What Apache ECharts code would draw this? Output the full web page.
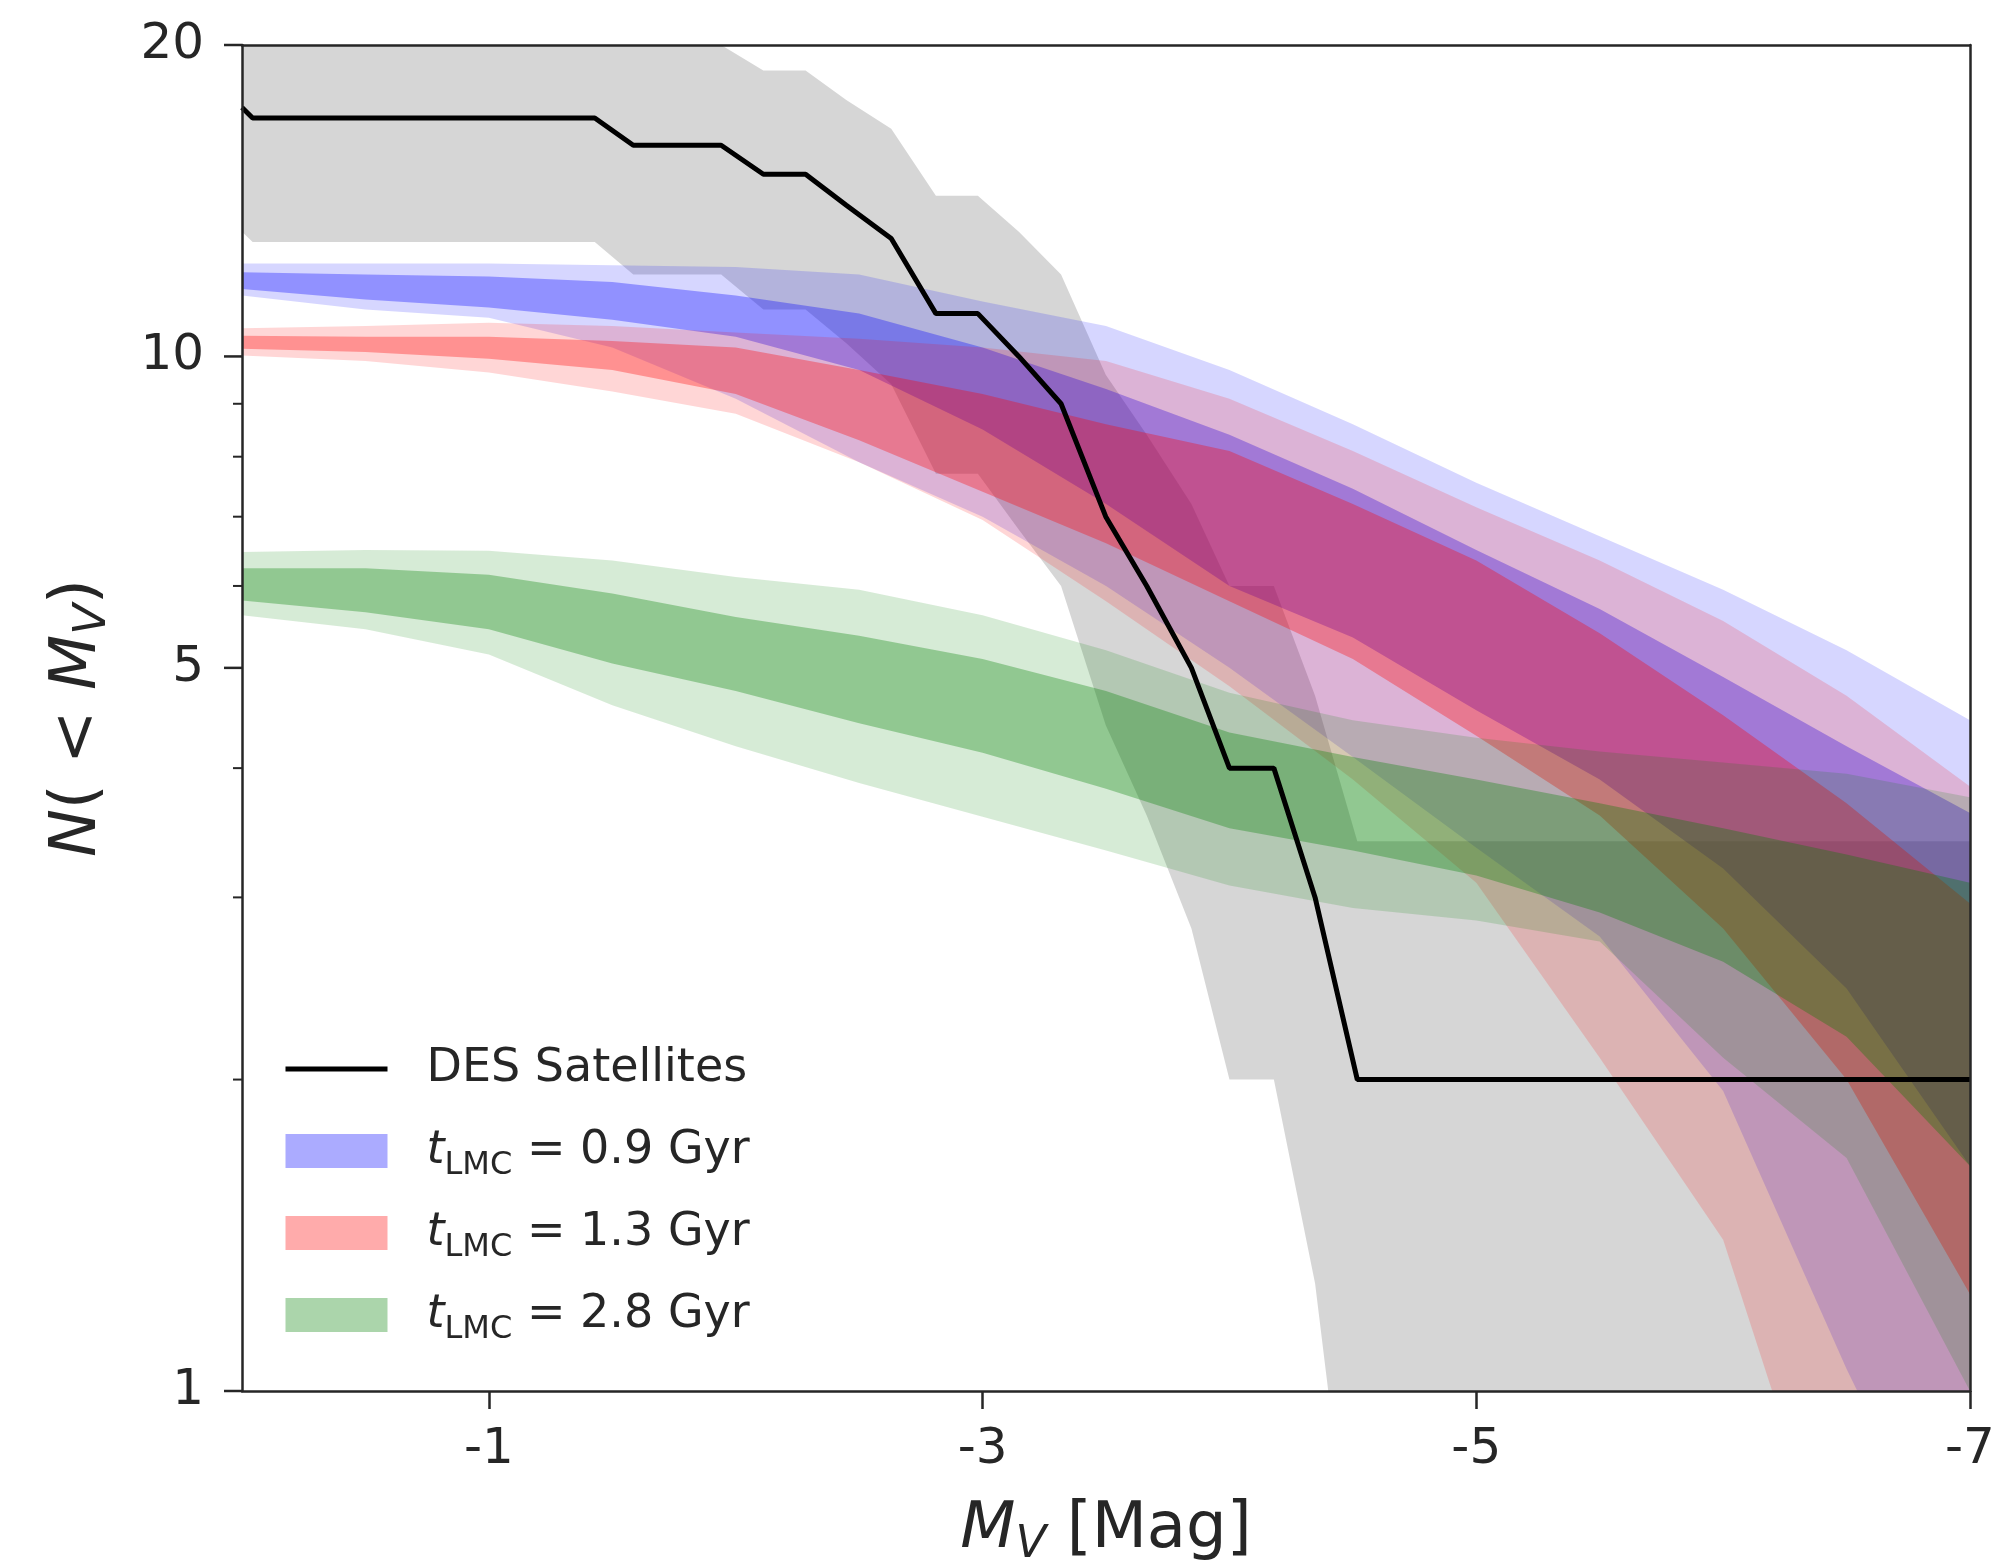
<!DOCTYPE html>
<html><head><meta charset="utf-8">
<script src="https://cdn.jsdelivr.net/npm/echarts@6/dist/echarts.min.js"></script>
<style>html,body{margin:0;padding:0;background:#fff}#c{width:1997px;height:1565px}</style>
</head><body><div id="c"></div>
<script>
// ---- data (M_V grid, N(<M_V)) ----
const MV = [0, -0.5, -1, -1.5, -2, -2.5, -3, -3.5, -4, -4.5, -5, -5.5, -6, -6.5, -7];

const BLUE_OUT_HI = [12.3, 12.3, 12.3, 12.25, 12.2, 12.0, 11.3, 10.7, 9.7, 8.6, 7.55, 6.7, 5.95, 5.2, 4.45];
const BLUE_IN_HI  = [12.06, 12.0, 11.95, 11.8, 11.45, 11.0, 10.2, 9.3, 8.4, 7.45, 6.5, 5.7, 4.9, 4.2, 3.62];
const BLUE_IN_LO  = [11.62, 11.35, 11.15, 10.85, 10.45, 9.7, 8.5, 7.2, 6.0, 5.35, 4.55, 3.9, 3.2, 2.45, 1.65];
const BLUE_OUT_LO = [11.45, 11.1, 10.9, 10.2, 9.1, 7.9, 7.0, 6.0, 5.0, 4.1, 3.35, 2.75, 1.95, 1.05, 0.6];

const RED_OUT_HI = [10.65, 10.7, 10.78, 10.7, 10.55, 10.4, 10.2, 9.9, 9.1, 8.1, 7.15, 6.35, 5.55, 4.7, 3.84];
const RED_IN_HI  = [10.47, 10.45, 10.45, 10.35, 10.2, 9.7, 9.2, 8.6, 8.1, 7.2, 6.35, 5.4, 4.5, 3.7, 2.96];
const RED_IN_LO  = [10.17, 10.1, 9.95, 9.7, 9.2, 8.3, 7.4, 6.6, 5.8, 5.1, 4.3, 3.6, 2.8, 2.0, 1.24];
const RED_OUT_LO = [10.02, 9.9, 9.65, 9.25, 8.8, 7.9, 6.95, 5.8, 4.8, 3.9, 3.1, 2.1, 1.4, 0.6, 0.4];

const GREEN_OUT_HI = [6.47, 6.5, 6.49, 6.35, 6.12, 5.95, 5.62, 5.2, 4.73, 4.45, 4.28, 4.15, 4.05, 3.95, 3.75];
const GREEN_IN_HI  = [6.24, 6.24, 6.15, 5.9, 5.6, 5.37, 5.1, 4.75, 4.33, 4.1, 3.9, 3.7, 3.5, 3.3, 3.1];
const GREEN_IN_LO  = [5.81, 5.66, 5.45, 5.05, 4.75, 4.42, 4.14, 3.82, 3.5, 3.33, 3.15, 2.9, 2.6, 2.2, 1.65];
const GREEN_OUT_LO = [5.62, 5.45, 5.15, 4.6, 4.2, 3.87, 3.59, 3.33, 3.08, 2.93, 2.85, 2.72, 2.1, 1.68, 1.0];

// DES satellites cumulative count and its band
const DES_MV = [0, -0.043, -1.429, -1.585, -1.941, -2.112, -2.283, -2.448, -2.63, -2.811, -2.981, -3.147, -3.318, -3.499, -3.665, -3.846, -4.0, -4.18, -4.347, -4.518, -7.0];
const DES_N  = [17.4, 17, 17, 16, 16, 15, 15, 14, 13, 11, 11, 10, 9, 7, 6, 5, 4, 4, 3, 2, 2];
const DES_HI = [21.5, 21.1, 21.1, 20.0, 20.0, 18.9, 18.9, 17.7, 16.6, 14.3, 14.3, 13.2, 12.0, 9.6, 8.4, 7.2, 6.0, 6.0, 4.7, 3.4, 3.4];
const DES_LO = [13.2, 12.9, 12.9, 12.0, 12.0, 11.1, 11.1, 10.3, 9.4, 7.7, 7.7, 6.8, 6.0, 4.4, 3.6, 2.8, 2.0, 2.0, 1.27, 0.59, 0.59];

const X_TICKS = [-1, -3, -5, -7];
const Y_TICKS = [1, 5, 10, 20];
const Y_MINOR = [2, 3, 4, 6, 7, 8, 9];

const TXT = '#262626';
const FONT = 'DejaVu Sans';

function polyPoints(api, xs, lo, hi) {
  const top = xs.map((x, i) => api.coord([x, hi[i]]));
  const bot = [];
  for (let i = xs.length - 1; i >= 0; i--) bot.push(api.coord([xs[i], lo[i]]));
  return top.concat(bot);
}

function bandSeries(name, lo2, hi2, lo1, hi1, rgb, legendColor) {
  return {
    type: 'custom', name: name, clip: true, silent: true, z: 2,
    itemStyle: { color: legendColor },
    data: MV.map((m, i) => [m, lo2[i], hi2[i], lo1[i], hi1[i]]),
    renderItem: function (params, api) {
      if (params.dataIndex !== 0) return null;
      return { type: 'group', children: [
        { type: 'polygon', shape: { points: polyPoints(api, MV, lo2, hi2) }, style: { fill: 'rgba(' + rgb + ',0.16)' } },
        { type: 'polygon', shape: { points: polyPoints(api, MV, lo1, hi1) }, style: { fill: 'rgba(' + rgb + ',0.32)' } }
      ]};
    }
  };
}

function yTickSeries(values, len, withLabel) {
  return {
    type: 'custom', clip: false, silent: true, z: 11,
    data: values.map(v => [0, v]),
    renderItem: function (params, api) {
      const v = api.value(1);
      const p = api.coord([0, v]);
      const children = [
        { type: 'line', shape: { x1: p[0] - len, y1: p[1], x2: p[0], y2: p[1] }, style: { stroke: TXT, lineWidth: withLabel ? 2.5 : 2 } }
      ];
      if (withLabel) {
        children.push({ type: 'text', style: { text: String(v), x: p[0] - 38, y: p[1], align: 'right', verticalAlign: 'middle', fontSize: 50, fontFamily: FONT, fill: TXT } });
      }
      return { type: 'group', children: children };
    }
  };
}

const chart = echarts.init(document.getElementById('c'), null, { renderer: 'canvas' });

const richAxis = {
  i: { fontFamily: FONT, fontStyle: 'italic', fontSize: 64, lineHeight: 76, color: TXT },
  n: { fontFamily: FONT, fontSize: 64, lineHeight: 76, color: TXT },
  s: { fontFamily: FONT, fontStyle: 'italic', fontSize: 45, lineHeight: 52, verticalAlign: 'bottom', color: TXT }
};
const richLegend = {
  d: { fontFamily: FONT, fontSize: 46, lineHeight: 62, color: TXT, padding: [0, 0, 0, 34] },
  t: { fontFamily: FONT, fontStyle: 'italic', fontSize: 46, lineHeight: 62, color: TXT, padding: [0, 0, 0, 34] },
  s: { fontFamily: FONT, fontSize: 32, lineHeight: 42, verticalAlign: 'bottom', color: TXT },
  n: { fontFamily: FONT, fontSize: 46, lineHeight: 62, color: TXT }
};
const LEGEND_TEXT = {
  'DES Satellites': '{d|DES Satellites}',
  'tLMC09': '{t|t}{s|LMC}{n| = 0.9 Gyr}',
  'tLMC13': '{t|t}{s|LMC}{n| = 1.3 Gyr}',
  'tLMC28': '{t|t}{s|LMC}{n| = 2.8 Gyr}'
};

const axisLineStyle = { color: TXT, width: 2.5 };

const option = {
  backgroundColor: '#ffffff',
  animation: false,
  grid: { left: 242, right: 27, top: 45, bottom: 174, containLabel: false, outerBoundsMode: 'none' },
  xAxis: [
    {
      type: 'value', min: -7, max: 0, inverse: true, z: 10,
      axisLine: { show: true, onZero: false, lineStyle: axisLineStyle },
      axisTick: { show: true, length: 18, customValues: X_TICKS, lineStyle: axisLineStyle },
      axisLabel: { customValues: X_TICKS, fontFamily: FONT, fontSize: 50, lineHeight: 50, color: TXT, margin: 34 },
      splitLine: { show: false },
      name: '{i|M}{s|V}{n| [Mag]}', nameLocation: 'middle', nameGap: 101,
      nameTextStyle: { rich: richAxis }
    },
    {
      type: 'value', min: -7, max: 0, inverse: true, position: 'top', z: 10,
      axisLine: { show: true, onZero: false, lineStyle: axisLineStyle },
      axisTick: { show: false }, axisLabel: { show: false }, splitLine: { show: false }
    }
  ],
  yAxis: [
    {
      type: 'log', logBase: 10, min: 1, max: 20, z: 10,
      axisLine: { show: true, onZero: false, lineStyle: axisLineStyle },
      axisTick: { show: false }, axisLabel: { show: false },
      splitLine: { show: false }, minorTick: { show: false }, minorSplitLine: { show: false },
      name: '{i|N}{n|( < }{i|M}{s|V}{n|)}', nameLocation: 'middle', nameGap: 126, nameRotate: 90,
      nameTextStyle: { rich: richAxis }
    },
    {
      type: 'log', logBase: 10, min: 1, max: 20, position: 'right', z: 10,
      axisLine: { show: true, onZero: false, lineStyle: axisLineStyle },
      axisTick: { show: false }, axisLabel: { show: false }, splitLine: { show: false }
    }
  ],
  legend: {
    orient: 'vertical', left: 283, top: 1038, padding: 0,
    itemWidth: 102, itemHeight: 34, itemGap: 20, selectedMode: false,
    data: [
      { name: 'DES Satellites', itemStyle: { opacity: 0 }, lineStyle: { width: 5, color: '#000000' } },
      { name: 'tLMC09', icon: 'rect' },
      { name: 'tLMC13', icon: 'rect' },
      { name: 'tLMC28', icon: 'rect' }
    ],
    formatter: function (name) { return LEGEND_TEXT[name]; },
    textStyle: { color: TXT, fontFamily: FONT, fontSize: 46, lineHeight: 62, rich: richLegend }
  },
  series: [
    {
      type: 'custom', name: 'DES band', clip: true, silent: true, z: 1,
      data: DES_MV.map((m, i) => [m, DES_LO[i], DES_HI[i]]),
      renderItem: function (params, api) {
        if (params.dataIndex !== 0) return null;
        return { type: 'polygon', shape: { points: polyPoints(api, DES_MV, DES_LO, DES_HI) }, style: { fill: 'rgba(0,0,0,0.16)' } };
      }
    },
    bandSeries('tLMC09', BLUE_OUT_LO, BLUE_OUT_HI, BLUE_IN_LO, BLUE_IN_HI, '0,0,255', 'rgb(171,171,255)'),
    bandSeries('tLMC13', RED_OUT_LO, RED_OUT_HI, RED_IN_LO, RED_IN_HI, '255,0,0', 'rgb(255,171,171)'),
    bandSeries('tLMC28', GREEN_OUT_LO, GREEN_OUT_HI, GREEN_IN_LO, GREEN_IN_HI, '0,128,0', 'rgb(171,213,171)'),
    {
      type: 'line', name: 'DES Satellites', symbol: 'none', z: 5, clip: true, silent: true,
      data: DES_MV.map((m, i) => [m, DES_N[i]]),
      lineStyle: { color: '#000000', width: 5 }, itemStyle: { color: '#000000' }
    },
    yTickSeries(Y_TICKS, 18, true),
    yTickSeries(Y_MINOR, 9, false)
  ]
};
chart.setOption(option);
</script>
</body></html>
